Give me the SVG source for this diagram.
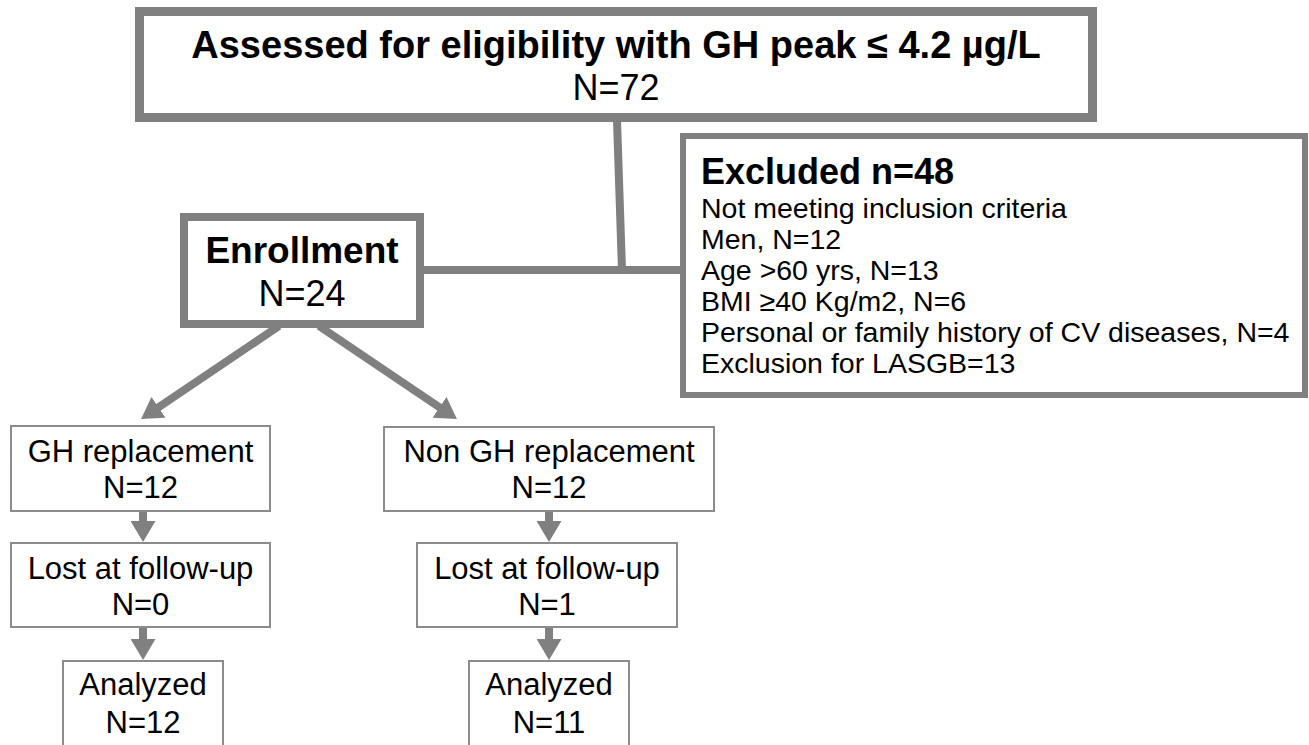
<svg xmlns="http://www.w3.org/2000/svg" width="1309" height="745" viewBox="0 0 1309 745">
<style>
.thick{fill:#fff;stroke:#808080;}
.thin{fill:#fff;stroke:#8c8c8c;stroke-width:2;}
.t{font-family:"Liberation Sans",Arial,sans-serif;fill:#000;}
.c{text-anchor:middle;}
.b{font-weight:bold;}
.body{font-size:28.5px;}
.conn{stroke:#808080;stroke-width:8;fill:none;}
</style>
<defs>
<marker id="ah" markerUnits="userSpaceOnUse" markerWidth="21" markerHeight="25" refX="3" refY="12.5" orient="auto">
<path d="M0,0 L21,12.5 L0,25 z" fill="#808080"/>
</marker>
</defs>
<g id="connectors">
<path class="conn" d="M617,120 L622,270"/>
<path class="conn" d="M420,270 L683,270"/>
<path class="conn" d="M279,326 L156,409" marker-end="url(#ah)"/>
<path class="conn" d="M319,326 L442,409" marker-end="url(#ah)"/>
<path class="conn" d="M143,510 L143,524" marker-end="url(#ah)"/>
<path class="conn" d="M143,627 L143,642" marker-end="url(#ah)"/>
<path class="conn" d="M549,511 L549,524" marker-end="url(#ah)"/>
<path class="conn" d="M549,627 L549,642" marker-end="url(#ah)"/>
</g>
<g id="assessed">
<rect class="thick" x="139.5" y="11.5" width="953" height="106" stroke-width="9"/>
<text class="t c b" x="616" y="58" font-size="38">Assessed for eligibility with GH peak ≤ 4.2 µg/L</text>
<text class="t c" x="616" y="100" font-size="36">N=72</text>
</g>
<g id="enrollment">
<rect class="thick" x="184" y="217" width="236" height="107" stroke-width="8"/>
<text class="t c b" x="302" y="263" font-size="37">Enrollment</text>
<text class="t c" x="302" y="306" font-size="36">N=24</text>
</g>
<g id="excluded">
<rect class="thick" x="683" y="136" width="622" height="259" stroke-width="6"/>
<text class="t b" x="701" y="184" font-size="36">Excluded n=48</text>
<text class="t body" x="701" y="218">Not meeting inclusion criteria</text>
<text class="t body" x="701" y="249">Men, N=12</text>
<text class="t body" x="701" y="280">Age &gt;60 yrs, N=13</text>
<text class="t body" x="701" y="311">BMI ≥40 Kg/m2, N=6</text>
<text class="t body" x="701" y="342">Personal or family history of CV diseases, N=4</text>
<text class="t body" x="701" y="373">Exclusion for LASGB=13</text>
</g>
<g id="gh-replacement">
<rect class="thin" x="11" y="426" width="259" height="85"/>
<text class="t c" x="140.5" y="462" font-size="31">GH replacement</text>
<text class="t c" x="140.5" y="498" font-size="31">N=12</text>
</g>
<g id="gh-lost">
<rect class="thin" x="11" y="543" width="259" height="84"/>
<text class="t c" x="140.5" y="579" font-size="31">Lost at follow-up</text>
<text class="t c" x="140.5" y="615" font-size="31">N=0</text>
</g>
<g id="gh-analyzed">
<rect class="thin" x="63" y="661" width="160" height="100"/>
<text class="t c" x="143" y="695" font-size="31">Analyzed</text>
<text class="t c" x="143" y="733" font-size="31">N=12</text>
</g>
<g id="nongh-replacement">
<rect class="thin" x="384" y="427" width="330" height="84"/>
<text class="t c" x="549" y="462" font-size="31">Non GH replacement</text>
<text class="t c" x="549" y="498" font-size="31">N=12</text>
</g>
<g id="nongh-lost">
<rect class="thin" x="417" y="543" width="260" height="84"/>
<text class="t c" x="547" y="579" font-size="31">Lost at follow-up</text>
<text class="t c" x="547" y="615" font-size="31">N=1</text>
</g>
<g id="nongh-analyzed">
<rect class="thin" x="469" y="661" width="160" height="100"/>
<text class="t c" x="549" y="695" font-size="31">Analyzed</text>
<text class="t c" x="549" y="733" font-size="31">N=11</text>
</g>
</svg>
